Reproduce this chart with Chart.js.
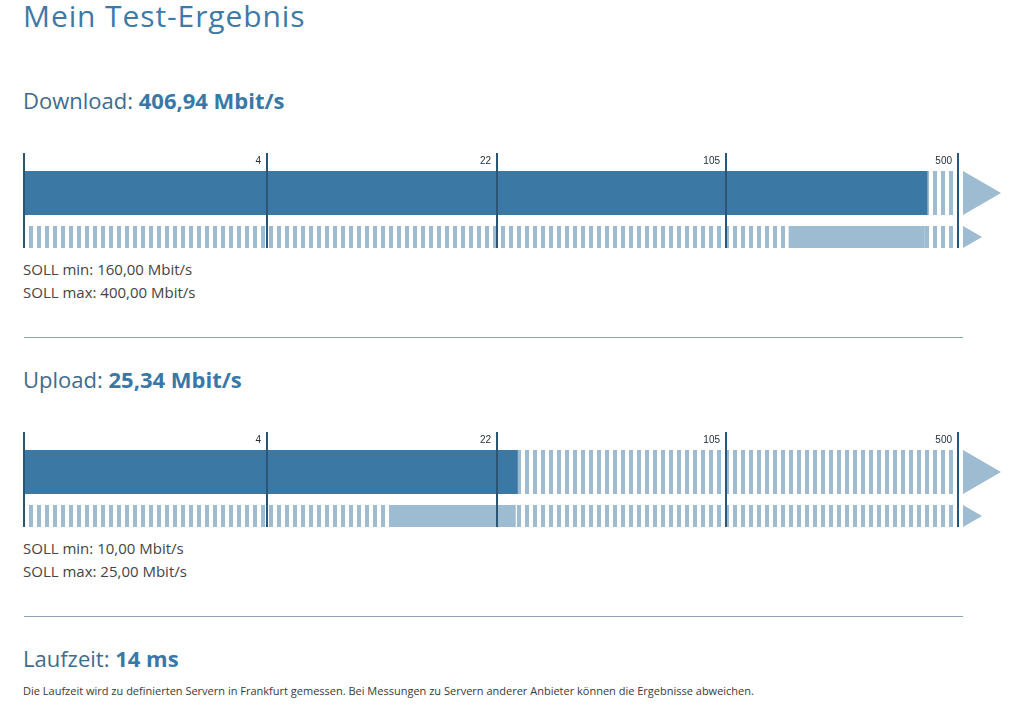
<!DOCTYPE html>
<html lang="de">
<head>
    <meta charset="UTF-8">
    <title>Mein Test-Ergebnis</title>
    <script src="https://cdn.jsdelivr.net/npm/chart.js@4"></script>
    <style>
        body {
            margin: 0;
            width: 1015px;
            height: 713px;
            position: relative;
            overflow: hidden;
            background: #fff;
            font-family: "Open Sans", Arial, sans-serif;
        }
        .txt {
            position: absolute;
            left: 23px;
            line-height: 1;
            white-space: nowrap;
        }
        h1.txt {
            margin: 0;
            font-size: 30px;
            font-weight: 400;
            letter-spacing: 0.9px;
            color: #3d7aa6;
            top: 1px;
        }
        h2.txt {
            margin: 0;
            font-size: 22px;
            font-weight: 400;
            color: #3f6b8e;
        }
        h2.txt b { color: #3878a8; font-weight: 700; }
        .soll {
            font-size: 15px;
            color: #444;
        }
        .sep {
            position: absolute;
            left: 24px;
            width: 939px;
            height: 1px;
            background: #8fa2b2;
        }
        .gauge {
            position: absolute;
            left: 0;
            width: 1015px;
            height: 110px;
        }
        .note {
            font-size: 11px;
            color: #3a3a3a;
        }
    </style>
</head>
<body>
    <h1 class="txt">Mein Test-Ergebnis</h1>

    <h2 class="txt" id="dlHead" style="top:89px"></h2>
    <div class="gauge" style="top:145px"><canvas id="dlChart"></canvas></div>
    <div class="txt soll" id="dlMin" style="top:262px"></div>
    <div class="txt soll" id="dlMax" style="top:285px"></div>
    <div class="sep" style="top:337px"></div>

    <h2 class="txt" id="ulHead" style="top:368px"></h2>
    <div class="gauge" style="top:424px"><canvas id="ulChart"></canvas></div>
    <div class="txt soll" id="ulMin" style="top:541px"></div>
    <div class="txt soll" id="ulMax" style="top:564px"></div>
    <div class="sep" style="top:616px"></div>

    <h2 class="txt" id="rttHead" style="top:647px"></h2>
    <div class="txt note" style="top:685px">Die Laufzeit wird zu definierten Servern in Frankfurt gemessen. Bei Messungen zu Servern anderer Anbieter können die Ergebnisse abweichen.</div>

    <script>
        // Skala (Mbit/s) und Messwerte
        const tickValues = [0, 4, 22, 105, 500];
        const segmentWidths = [243, 230, 229, 232];   // relative Breite der Abschnitte
        const rowLabels = ['Ist', 'Soll'];

        const downloadValue = 406.94;
        const downloadSoll = [160, 400];
        const uploadValue = 25.34;
        const uploadSoll = [10, 25];
        const latencyMs = 14;

        const darkBlue = '#3b78a3';
        const lightBlue = '#9dbbd1';
        const tickColor = '#2b5573';

        const fmt = v => v.toLocaleString('de-DE', { minimumFractionDigits: 2, maximumFractionDigits: 2 });

        document.getElementById('dlHead').innerHTML = 'Download: <b>' + fmt(downloadValue) + ' Mbit/s</b>';
        document.getElementById('ulHead').innerHTML = 'Upload: <b>' + fmt(uploadValue) + ' Mbit/s</b>';
        document.getElementById('rttHead').innerHTML = 'Laufzeit: <b>' + latencyMs + ' ms</b>';
        document.getElementById('dlMin').textContent = 'SOLL min: ' + fmt(downloadSoll[0]) + ' Mbit/s';
        document.getElementById('dlMax').textContent = 'SOLL max: ' + fmt(downloadSoll[1]) + ' Mbit/s';
        document.getElementById('ulMin').textContent = 'SOLL min: ' + fmt(uploadSoll[0]) + ' Mbit/s';
        document.getElementById('ulMax').textContent = 'SOLL max: ' + fmt(uploadSoll[1]) + ' Mbit/s';

        // Abschnittsweise Skala: erster Abschnitt linear, danach logarithmisch
        class SegmentScale extends Chart.LinearScale {
            buildTicks() {
                return tickValues.map(v => ({ value: v }));
            }
            getPixelForValue(value) {
                const total = segmentWidths.reduce((a, c) => a + c, 0);
                let acc = 0;
                for (let i = 0; i < tickValues.length - 1; i++) {
                    const lo = tickValues[i], hi = tickValues[i + 1];
                    if (value <= hi || i === tickValues.length - 2) {
                        let f = i === 0 ? value / hi : Math.log(value / lo) / Math.log(hi / lo);
                        f = Math.max(0, Math.min(1, f));
                        return this.getPixelForDecimal((acc + f * segmentWidths[i]) / total);
                    }
                    acc += segmentWidths[i];
                }
            }
        }
        SegmentScale.id = 'segment';
        SegmentScale.defaults = Chart.LinearScale.defaults;
        Chart.register(SegmentScale);

        function stripes() {
            const c = document.createElement('canvas');
            c.width = 8; c.height = 1;
            const g = c.getContext('2d');
            g.fillStyle = lightBlue;
            g.fillRect(0, 0, 4, 1);
            const p = g.createPattern(c, 'repeat');
            p.setTransform(new DOMMatrix([1, 0, 0, 1, 5, 0]));
            return p;
        }

        // Pfeile rechts und Skalenbeschriftung links neben den Strichen
        const gaugeDeco = {
            id: 'gaugeDeco',
            afterDraw(chart) {
                const x = chart.scales.x, y = chart.scales.y;
                const ctx = chart.ctx;
                const left = x.right + 5;
                ctx.save();
                ctx.fillStyle = lightBlue;
                [[0, 44, 38], [1, 22, 19]].forEach(([row, h, len]) => {
                    const cy = y.getPixelForValue(row);
                    ctx.beginPath();
                    ctx.moveTo(left, cy - h / 2);
                    ctx.lineTo(left + len, cy);
                    ctx.lineTo(left, cy + h / 2);
                    ctx.closePath();
                    ctx.fill();
                });
                ctx.fillStyle = '#1f2a33';
                ctx.font = '10px "Liberation Sans", Arial, sans-serif';
                ctx.textAlign = 'right';
                ctx.textBaseline = 'middle';
                x.ticks.forEach((t, i) => {
                    if (t.value === 0) return;
                    ctx.fillText(String(t.value), x.getPixelForTick(i) - 6, chart.chartArea.top + 8);
                });
                ctx.restore();
            }
        };

        function makeGauge(id, value, soll) {
            const pat = stripes();
            const bar = { grouped: false, borderWidth: 0, inflateAmount: 0 };
            const scaleMax = tickValues[tickValues.length - 1];
            return new Chart(document.getElementById(id), {
                type: 'bar',
                data: {
                    datasets: [
                        { ...bar, label: rowLabels[0], data: [{ x: value, y: 0 }], backgroundColor: darkBlue, barThickness: 44, order: 1 },
                        { ...bar, label: rowLabels[1], data: [{ x: soll, y: 1 }], backgroundColor: lightBlue, barThickness: 22, order: 1 },
                        { ...bar, label: 'Skala', data: [{ x: scaleMax, y: 0 }], backgroundColor: pat, barThickness: 44, order: 2 },
                        { ...bar, label: 'Skala', data: [{ x: scaleMax, y: 1 }], backgroundColor: pat, barThickness: 22, order: 2 }
                    ]
                },
                options: {
                    indexAxis: 'y',
                    responsive: true,
                    maintainAspectRatio: false,
                    animation: false,
                    events: [],
                    layout: { padding: { top: 8, bottom: 7, left: 24, right: 57 } },
                    plugins: { legend: { display: false }, tooltip: { enabled: false } },
                    scales: {
                        x: {
                            type: 'segment',
                            position: 'top',
                            min: 0,
                            max: scaleMax,
                            border: { display: false },
                            grid: { color: tickColor, lineWidth: 2, drawTicks: false, z: 1 },
                            ticks: { display: false, autoSkip: false }
                        },
                        y: {
                            type: 'linear',
                            display: false,
                            offset: false,
                            reverse: true,
                            min: -0.909,
                            max: 1.25
                        }
                    }
                },
                plugins: [gaugeDeco]
            });
        }

        makeGauge('dlChart', downloadValue, downloadSoll);
        makeGauge('ulChart', uploadValue, uploadSoll);
    </script>
</body>
</html>
